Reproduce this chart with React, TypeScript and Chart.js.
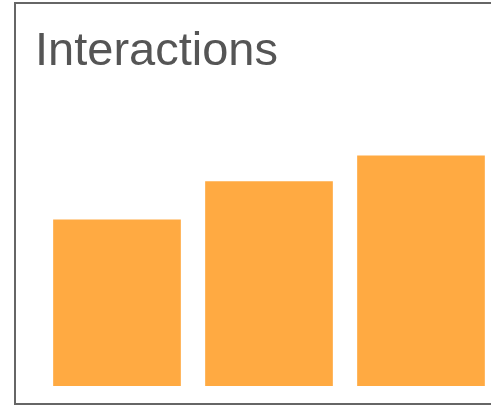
import React, { useEffect, useRef } from "react";
import { Chart, registerables } from "chart.js";

Chart.register(...registerables);

const categories: string[] = ["Week 1", "Week 2", "Week 3"];
const interactions: number[] = [13, 16, 18];
const yMax = 20;
const titleText = "Interactions";

export default function App() {
  const ref = useRef<HTMLCanvasElement | null>(null);

  useEffect(() => {
    if (!ref.current) return;
    const chart = new Chart(ref.current, {
      type: "bar",
      data: {
        labels: categories,
        datasets: [
          {
            label: titleText,
            data: interactions,
            backgroundColor: "rgb(255,170,66)",
            borderWidth: 0,
            categoryPercentage: 1,
            barPercentage: 0.84,
          },
        ],
      },
      options: {
        responsive: false,
        animation: false,
        layout: { padding: { left: 35, right: 13, top: 0, bottom: 19 } },
        plugins: {
          legend: { display: false },
          tooltip: { enabled: false },
          title: {
            display: true,
            text: titleText,
            align: "start",
            color: "#555555",
            font: { family: "'Liberation Sans', Arial, sans-serif", size: 47, weight: "normal", lineHeight: 1.2 },
            padding: { top: 24, bottom: 49.6 },
          },
        },
        scales: {
          x: {
            display: false,
            grid: { display: false },
          },
          y: {
            display: true,
            min: 0,
            max: yMax,
            ticks: { display: false },
            grid: { display: false },
            border: { display: false },
            afterFit: (scale: any) => {
              scale.width = 6;
            },
          },
        },
      },
    });
    return () => chart.destroy();
  }, []);

  return (
    <div
      style={{
        position: "fixed",
        left: 0,
        top: 0,
        width: 491,
        height: 405,
        overflow: "hidden",
        background: "#fff",
      }}
    >
      <div
        style={{
          position: "absolute",
          left: 14,
          top: 2,
          width: 520,
          height: 403,
          boxSizing: "border-box",
          border: "2px solid #666",
        }}
      />
      <canvas
        ref={ref}
        width={510}
        height={405}
        style={{ position: "absolute", left: 0, top: 0, width: 510, height: 405 }}
      />
    </div>
  );
}
